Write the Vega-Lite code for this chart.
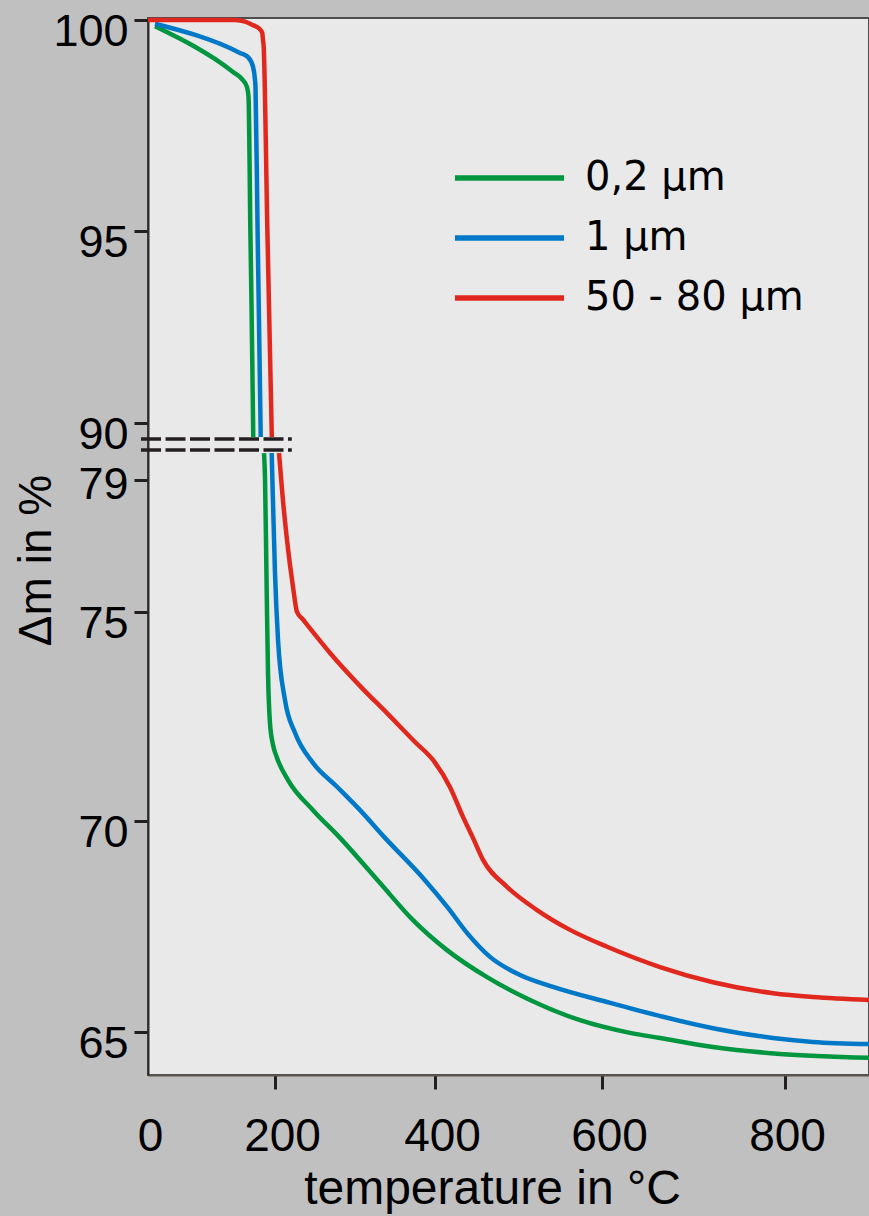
{
  "$schema": "https://vega.github.io/schema/vega-lite/v6.json",
  "width": 721,
  "height": 1057,
  "autosize": {"type": "none"},
  "padding": {"left": 148, "top": 18, "right": 0, "bottom": 141},
  "background": "#c0c0c0",
  "config": {
    "font": "Liberation Sans",
    "view": {"fill": "#e9e9e9", "stroke": "#4d4d4d", "strokeWidth": 2}
  },
  "datasets": {
    "tga": [
      {"size": "0,2 μm", "part": "a", "T": 11, "dm": 99.85},
      {"size": "0,2 μm", "part": "a", "T": 133.9, "dm": 98.77},
      {"size": "0,2 μm", "part": "a", "T": 148, "dm": 98.6},
      {"size": "0,2 μm", "part": "a", "T": 155.9, "dm": 98.41},
      {"size": "0,2 μm", "part": "a", "T": 158.3, "dm": 98.18},
      {"size": "0,2 μm", "part": "a", "T": 161.2, "dm": 95.0},
      {"size": "0,2 μm", "part": "a", "T": 165.5, "dm": 90.0},
      {"size": "0,2 μm", "part": "a", "T": 165.7, "dm": 87.3},
      {"size": "0,2 μm", "part": "b", "T": 182.7, "dm": 84.2},
      {"size": "0,2 μm", "part": "b", "T": 184.3, "dm": 79.0},
      {"size": "0,2 μm", "part": "b", "T": 185.8, "dm": 77.18},
      {"size": "0,2 μm", "part": "b", "T": 187.4, "dm": 75.0},
      {"size": "0,2 μm", "part": "b", "T": 189, "dm": 73.54},
      {"size": "0,2 μm", "part": "b", "T": 192.1, "dm": 72.34},
      {"size": "0,2 μm", "part": "b", "T": 196.9, "dm": 71.82},
      {"size": "0,2 μm", "part": "b", "T": 202.1, "dm": 71.53},
      {"size": "0,2 μm", "part": "b", "T": 216.3, "dm": 70.98},
      {"size": "0,2 μm", "part": "b", "T": 247.5, "dm": 70.26},
      {"size": "0,2 μm", "part": "b", "T": 281.3, "dm": 69.6},
      {"size": "0,2 μm", "part": "b", "T": 331.3, "dm": 68.53},
      {"size": "0,2 μm", "part": "b", "T": 372.5, "dm": 67.65},
      {"size": "0,2 μm", "part": "b", "T": 414.4, "dm": 66.94},
      {"size": "0,2 μm", "part": "b", "T": 462.3, "dm": 66.3},
      {"size": "0,2 μm", "part": "b", "T": 513.8, "dm": 65.76},
      {"size": "0,2 μm", "part": "b", "T": 573.7, "dm": 65.28},
      {"size": "0,2 μm", "part": "b", "T": 630.6, "dm": 64.98},
      {"size": "0,2 μm", "part": "b", "T": 663.4, "dm": 64.86},
      {"size": "0,2 μm", "part": "b", "T": 721.3, "dm": 64.65},
      {"size": "0,2 μm", "part": "b", "T": 794.5, "dm": 64.49},
      {"size": "0,2 μm", "part": "b", "T": 892, "dm": 64.4},
      {"size": "1 μm", "part": "a", "T": 11, "dm": 99.91},
      {"size": "1 μm", "part": "a", "T": 144.9, "dm": 99.22},
      {"size": "1 μm", "part": "a", "T": 157.5, "dm": 99.12},
      {"size": "1 μm", "part": "a", "T": 165.4, "dm": 98.89},
      {"size": "1 μm", "part": "a", "T": 168.5, "dm": 98.58},
      {"size": "1 μm", "part": "a", "T": 169.3, "dm": 98.41},
      {"size": "1 μm", "part": "a", "T": 172.6, "dm": 95.0},
      {"size": "1 μm", "part": "a", "T": 177.2, "dm": 90.0},
      {"size": "1 μm", "part": "a", "T": 177.5, "dm": 87.3},
      {"size": "1 μm", "part": "b", "T": 194.8, "dm": 84.2},
      {"size": "1 μm", "part": "b", "T": 195.9, "dm": 79.0},
      {"size": "1 μm", "part": "b", "T": 200, "dm": 76.18},
      {"size": "1 μm", "part": "b", "T": 203.8, "dm": 74.33},
      {"size": "1 μm", "part": "b", "T": 212.5, "dm": 72.89},
      {"size": "1 μm", "part": "b", "T": 225, "dm": 72.11},
      {"size": "1 μm", "part": "b", "T": 247.5, "dm": 71.39},
      {"size": "1 μm", "part": "b", "T": 277.5, "dm": 70.82},
      {"size": "1 μm", "part": "b", "T": 306.3, "dm": 70.26},
      {"size": "1 μm", "part": "b", "T": 337.5, "dm": 69.6},
      {"size": "1 μm", "part": "b", "T": 385, "dm": 68.65},
      {"size": "1 μm", "part": "b", "T": 415.6, "dm": 67.94},
      {"size": "1 μm", "part": "b", "T": 438.3, "dm": 67.35},
      {"size": "1 μm", "part": "b", "T": 465.9, "dm": 66.78},
      {"size": "1 μm", "part": "b", "T": 501.8, "dm": 66.35},
      {"size": "1 μm", "part": "b", "T": 541.3, "dm": 66.07},
      {"size": "1 μm", "part": "b", "T": 605.5, "dm": 65.71},
      {"size": "1 μm", "part": "b", "T": 666.7, "dm": 65.36},
      {"size": "1 μm", "part": "b", "T": 721.3, "dm": 65.09},
      {"size": "1 μm", "part": "b", "T": 786.9, "dm": 64.86},
      {"size": "1 μm", "part": "b", "T": 830.6, "dm": 64.77},
      {"size": "1 μm", "part": "b", "T": 892, "dm": 64.72},
      {"size": "50 - 80 μm", "part": "a", "T": 0, "dm": 100.0},
      {"size": "50 - 80 μm", "part": "a", "T": 137, "dm": 100.0},
      {"size": "50 - 80 μm", "part": "a", "T": 153, "dm": 99.96},
      {"size": "50 - 80 μm", "part": "a", "T": 165, "dm": 99.88},
      {"size": "50 - 80 μm", "part": "a", "T": 175, "dm": 99.8},
      {"size": "50 - 80 μm", "part": "a", "T": 180, "dm": 99.69},
      {"size": "50 - 80 μm", "part": "a", "T": 181, "dm": 99.53},
      {"size": "50 - 80 μm", "part": "a", "T": 182, "dm": 99.41},
      {"size": "50 - 80 μm", "part": "a", "T": 188, "dm": 95.0},
      {"size": "50 - 80 μm", "part": "a", "T": 194.5, "dm": 90.0},
      {"size": "50 - 80 μm", "part": "a", "T": 195, "dm": 87.3},
      {"size": "50 - 80 μm", "part": "b", "T": 205, "dm": 84.2},
      {"size": "50 - 80 μm", "part": "b", "T": 207.8, "dm": 79.0},
      {"size": "50 - 80 μm", "part": "b", "T": 208.8, "dm": 78.7},
      {"size": "50 - 80 μm", "part": "b", "T": 215, "dm": 77.18},
      {"size": "50 - 80 μm", "part": "b", "T": 222.5, "dm": 75.76},
      {"size": "50 - 80 μm", "part": "b", "T": 227.5, "dm": 75.0},
      {"size": "50 - 80 μm", "part": "b", "T": 235, "dm": 74.82},
      {"size": "50 - 80 μm", "part": "b", "T": 250, "dm": 74.46},
      {"size": "50 - 80 μm", "part": "b", "T": 268.8, "dm": 74.02},
      {"size": "50 - 80 μm", "part": "b", "T": 308.8, "dm": 73.18},
      {"size": "50 - 80 μm", "part": "b", "T": 340, "dm": 72.58},
      {"size": "50 - 80 μm", "part": "b", "T": 375, "dm": 71.89},
      {"size": "50 - 80 μm", "part": "b", "T": 397.5, "dm": 71.46},
      {"size": "50 - 80 μm", "part": "b", "T": 418, "dm": 70.81},
      {"size": "50 - 80 μm", "part": "b", "T": 433.5, "dm": 70.1},
      {"size": "50 - 80 μm", "part": "b", "T": 445.5, "dm": 69.6},
      {"size": "50 - 80 μm", "part": "b", "T": 457.5, "dm": 69.08},
      {"size": "50 - 80 μm", "part": "b", "T": 486.2, "dm": 68.44},
      {"size": "50 - 80 μm", "part": "b", "T": 522.2, "dm": 67.89},
      {"size": "50 - 80 μm", "part": "b", "T": 561.7, "dm": 67.42},
      {"size": "50 - 80 μm", "part": "b", "T": 605.5, "dm": 67.02},
      {"size": "50 - 80 μm", "part": "b", "T": 663.4, "dm": 66.54},
      {"size": "50 - 80 μm", "part": "b", "T": 721.3, "dm": 66.18},
      {"size": "50 - 80 μm", "part": "b", "T": 786.9, "dm": 65.92},
      {"size": "50 - 80 μm", "part": "b", "T": 830.6, "dm": 65.83},
      {"size": "50 - 80 μm", "part": "b", "T": 892, "dm": 65.76}
    ]
  },
  "layer": [
    {
      "data": {"name": "tga"},
      "mark": {"type": "line", "strokeWidth": 4.5, "interpolate": "monotone"},
      "encoding": {
        "x": {
          "field": "T",
          "type": "quantitative",
          "scale": {"domain": [0, 200, 400, 600, 800, 892], "range": [0, 127, 287, 454, 637, 721], "nice": false, "zero": false},
          "axis": {
            "values": [0, 200, 400, 600, 800],
            "grid": false,
            "labelFontSize": 46,
            "labelColor": "#000000",
            "labelBaseline": "alphabetic",
            "labelPadding": 61,
            "labelFlush": false,
            "labelOverlap": false,
            "labelOffset": {"condition": {"test": "datum.value === 0 || datum.value === 800", "value": 2}, "value": 7},
            "tickSize": 14,
            "tickWidth": 3,
            "tickColor": {"condition": {"test": "datum.value === 0", "value": "transparent"}, "value": "#231f20"},
            "domainColor": "#5a5551",
            "domainWidth": 2,
            "title": "temperature in °C",
            "titleFontSize": 48,
            "titleFontWeight": "normal",
            "titleColor": "#000000",
            "titleX": 344,
            "titleY": 128,
            "titleAlign": "center",
            "titleBaseline": "alphabetic"
          }
        },
        "y": {
          "field": "dm",
          "type": "quantitative",
          "scale": {"domain": [64, 65, 70, 75, 79, 90, 95, 100, 100.05], "range": [1057, 1014, 803, 594, 462, 405, 213, 2, 0], "nice": false, "zero": false},
          "axis": {
            "values": [65, 70, 75, 79, 90, 95, 100],
            "grid": false,
            "labelFontSize": 45,
            "labelColor": "#000000",
            "labelBaseline": "alphabetic",
            "labelPadding": 6,
            "labelOverlap": false,
            "labelOffset": {"condition": {"test": "datum.value === 79", "value": 18}, "value": 25},
            "tickSize": 14,
            "tickWidth": 3,
            "tickColor": "#231f20",
            "domainColor": "#2b2b2b",
            "domainWidth": 2,
            "title": "Δm in %",
            "titleFontSize": 46,
            "titleFontWeight": "normal",
            "titleColor": "#000000",
            "titleAngle": 270,
            "titleX": -98,
            "titleY": 542,
            "titleAlign": "center",
            "titleBaseline": "alphabetic"
          }
        },
        "color": {
          "field": "size",
          "type": "nominal",
          "scale": {"domain": ["0,2 μm", "1 μm", "50 - 80 μm"], "range": ["#00963f", "#0078c8", "#e1281e"]},
          "legend": {
            "orient": "none",
            "legendX": 304,
            "legendY": 140,
            "title": null,
            "padding": 0,
            "symbolType": "stroke",
            "symbolSize": 11900,
            "symbolStrokeWidth": 5.5,
            "labelFont": "DejaVu Sans",
            "labelFontSize": 40,
            "labelColor": "#000000",
            "labelOffset": 18,
            "labelLimit": 400,
            "clipHeight": 40,
            "rowPadding": 20,
            "encode": {
              "symbols": {
                "update": {
                  "stroke": {"signal": "datum.value === '1 μm' ? '#00b0f0' : datum.value === '50 - 80 μm' ? '#ff0000' : '#3b9b3b'"}
                }
              }
            }
          }
        },
        "detail": {"field": "part", "type": "nominal"}
      }
    },
    {
      "data": {"values": [{}]},
      "mark": {"type": "rule", "strokeDash": [20, 4.5], "strokeWidth": 3.5, "color": "#231f20"},
      "encoding": {
        "x": {"datum": -11},
        "x2": {"datum": 221},
        "y": {"datum": 86.9}
      }
    },
    {
      "data": {"values": [{}]},
      "mark": {"type": "rule", "strokeDash": [20, 4.5], "strokeWidth": 3.5, "color": "#231f20"},
      "encoding": {
        "x": {"datum": -11},
        "x2": {"datum": 221},
        "y": {"datum": 84.8}
      }
    }
  ]
}
